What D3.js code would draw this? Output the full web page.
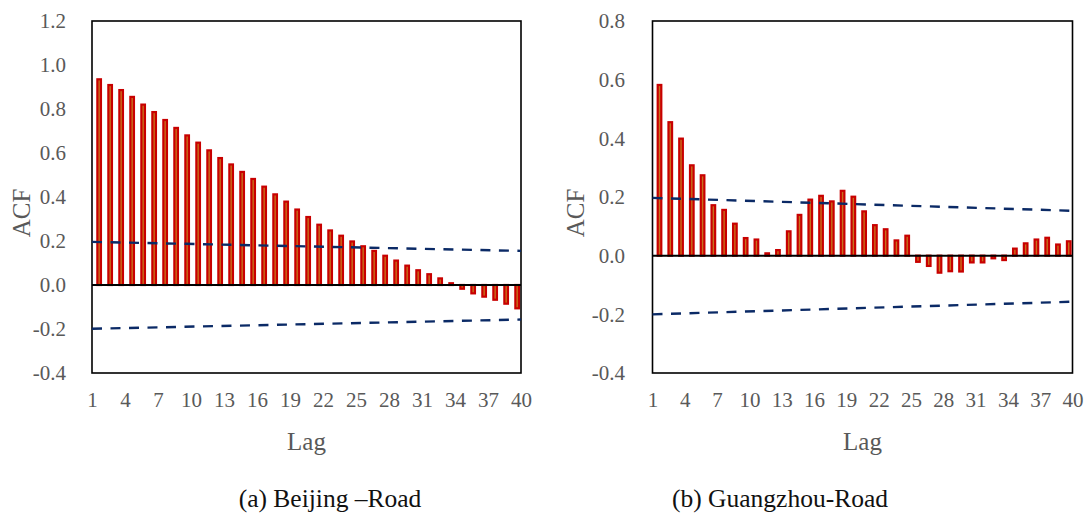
<!DOCTYPE html>
<html>
<head>
<meta charset="utf-8">
<script src="https://cdn.jsdelivr.net/npm/d3@7"></script>
<style>
  html, body { margin: 0; padding: 0; background: #fff; }
  svg { display: block; }
</style>
</head>
<body>
<svg id="chart" width="1091" height="516"></svg>
<script>
// Autocorrelation values per lag (lags 1..39)
const lags = d3.range(1, 40);
const acfBeijing = [
  0.935, 0.909, 0.886, 0.855, 0.820, 0.786, 0.750, 0.714, 0.680, 0.647,
  0.612, 0.577, 0.548, 0.514, 0.482, 0.447, 0.412, 0.379, 0.343, 0.309,
  0.274, 0.248, 0.224, 0.198, 0.176, 0.155, 0.133, 0.111, 0.088, 0.067,
  0.049, 0.030, 0.008, -0.017, -0.038, -0.053, -0.067, -0.085, -0.106
];
const acfGuangzhou = [
  0.582, 0.455, 0.399, 0.308, 0.274, 0.172, 0.156, 0.109, 0.060, 0.055,
  0.008, 0.019, 0.083, 0.139, 0.191, 0.204, 0.185, 0.221, 0.201, 0.151,
  0.104, 0.090, 0.052, 0.068, -0.021, -0.035, -0.058, -0.053, -0.054, -0.023,
  -0.023, -0.009, -0.015, 0.024, 0.042, 0.055, 0.061, 0.038, 0.049
];

// Confidence bounds (straight lines from lag 1 to lag 40)
const boundLags = [1, 40];
const upperBeijing = [0.196, 0.155];
const lowerBeijing = [-0.199, -0.157];
const upperGuangzhou = [0.197, 0.153];
const lowerGuangzhou = [-0.200, -0.157];

// Tick labels
const xTicks = [1, 4, 7, 10, 13, 16, 19, 22, 25, 28, 31, 34, 37, 40];
const yTicksBeijing = [-0.4, -0.2, 0.0, 0.2, 0.4, 0.6, 0.8, 1.0, 1.2];
const yTicksGuangzhou = [-0.4, -0.2, 0.0, 0.2, 0.4, 0.6, 0.8];

const captions = ["(a) Beijing \u2013Road", "(b) Guangzhou-Road"];

const SERIF = "Liberation Serif, Times New Roman, Times, DejaVu Serif, serif";
const fmt = d => d.toFixed(1);

const svg = d3.select("#chart");

function drawPanel(cfg) {
  const { left, right, top, bottom, yDomain, yTicks, values, upper, lower,
          yLabelX, tickRight, caption } = cfg;
  const g = svg.append("g");

  const x = d3.scaleLinear().domain([1, 40]).range([left, right]);
  const step = x(2) - x(1);
  const y = d3.scaleLinear().domain(yDomain).range([bottom, top]);

  // Plot frame
  g.append("rect")
    .attr("x", left).attr("y", top)
    .attr("width", right - left).attr("height", bottom - top)
    .attr("fill", "none").attr("stroke", "#000").attr("stroke-width", 1.6);

  // Bars: one per lag, placed inside the gap after each category tick
  const barW = 3.6;
  g.selectAll("rect.bar")
    .data(lags.map((l, i) => ({ lag: l, v: values[i] })))
    .join("rect")
    .attr("class", "bar")
    .attr("x", d => x(d.lag) + step * 0.65 - barW / 2)
    .attr("y", d => y(Math.max(0, d.v)))
    .attr("width", barW)
    .attr("height", d => Math.abs(y(d.v) - y(0)))
    .attr("fill", "#c8701c")
    .attr("stroke", "#c80000")
    .attr("stroke-width", 2.2);

  // Zero line
  g.append("line")
    .attr("x1", left).attr("x2", right)
    .attr("y1", y(0)).attr("y2", y(0))
    .attr("stroke", "#000").attr("stroke-width", 2);

  // Confidence bounds
  const line = d3.line().x(d => x(d[0])).y(d => y(d[1]));
  [upper, lower].forEach(b => {
    g.append("path")
      .datum(boundLags.map((l, i) => [l, b[i]]))
      .attr("d", line)
      .attr("fill", "none")
      .attr("stroke", "#0b2a66")
      .attr("stroke-width", 2.4)
      .attr("stroke-dasharray", "10,8.5");
  });

  // Y axis tick labels
  const yAxis = d3.axisLeft(y).tickValues(yTicks).tickSize(0).tickPadding(0)
    .tickFormat(fmt);
  const ya = g.append("g").attr("transform", `translate(${tickRight},0)`).call(yAxis);
  ya.attr("font-family", SERIF).attr("font-size", 21);
  ya.select(".domain").remove();
  ya.selectAll("text").attr("fill", "#595959");

  // X axis tick labels
  const xAxis = d3.axisBottom(x).tickValues(xTicks).tickSize(0).tickPadding(0);
  const xa = g.append("g").attr("transform", `translate(0,${bottom + 19})`).call(xAxis);
  xa.attr("font-family", SERIF).attr("font-size", 21);
  xa.select(".domain").remove();
  xa.selectAll("text").attr("fill", "#595959");

  // Axis titles
  g.append("text")
    .attr("x", (left + right) / 2).attr("y", 450)
    .attr("text-anchor", "middle")
    .attr("fill", "#595959")
    .attr("font-family", SERIF)
    .attr("font-size", 25)
    .text("Lag");

  g.append("text")
    .attr("transform", `translate(${yLabelX},${(top + bottom) / 2 + 16}) rotate(-90)`)
    .attr("text-anchor", "middle")
    .attr("fill", "#595959")
    .attr("font-family", SERIF)
    .attr("font-size", 25)
    .text("ACF");

  // Caption
  g.append("text")
    .attr("x", cfg.captionX).attr("y", 507)
    .attr("text-anchor", "middle")
    .attr("fill", "#111")
    .attr("font-family", SERIF)
    .attr("font-size", 25.5)
    .text(caption);
}

drawPanel({
  left: 92, right: 521, top: 21, bottom: 373,
  yDomain: [-0.4, 1.2], yTicks: yTicksBeijing,
  values: acfBeijing, upper: upperBeijing, lower: lowerBeijing,
  yLabelX: 30, tickRight: 66, caption: captions[0], captionX: 330
});

drawPanel({
  left: 652.5, right: 1072.5, top: 21, bottom: 373,
  yDomain: [-0.4, 0.8], yTicks: yTicksGuangzhou,
  values: acfGuangzhou, upper: upperGuangzhou, lower: lowerGuangzhou,
  yLabelX: 584, tickRight: 625, caption: captions[1], captionX: 780
});
</script>
</body>
</html>
